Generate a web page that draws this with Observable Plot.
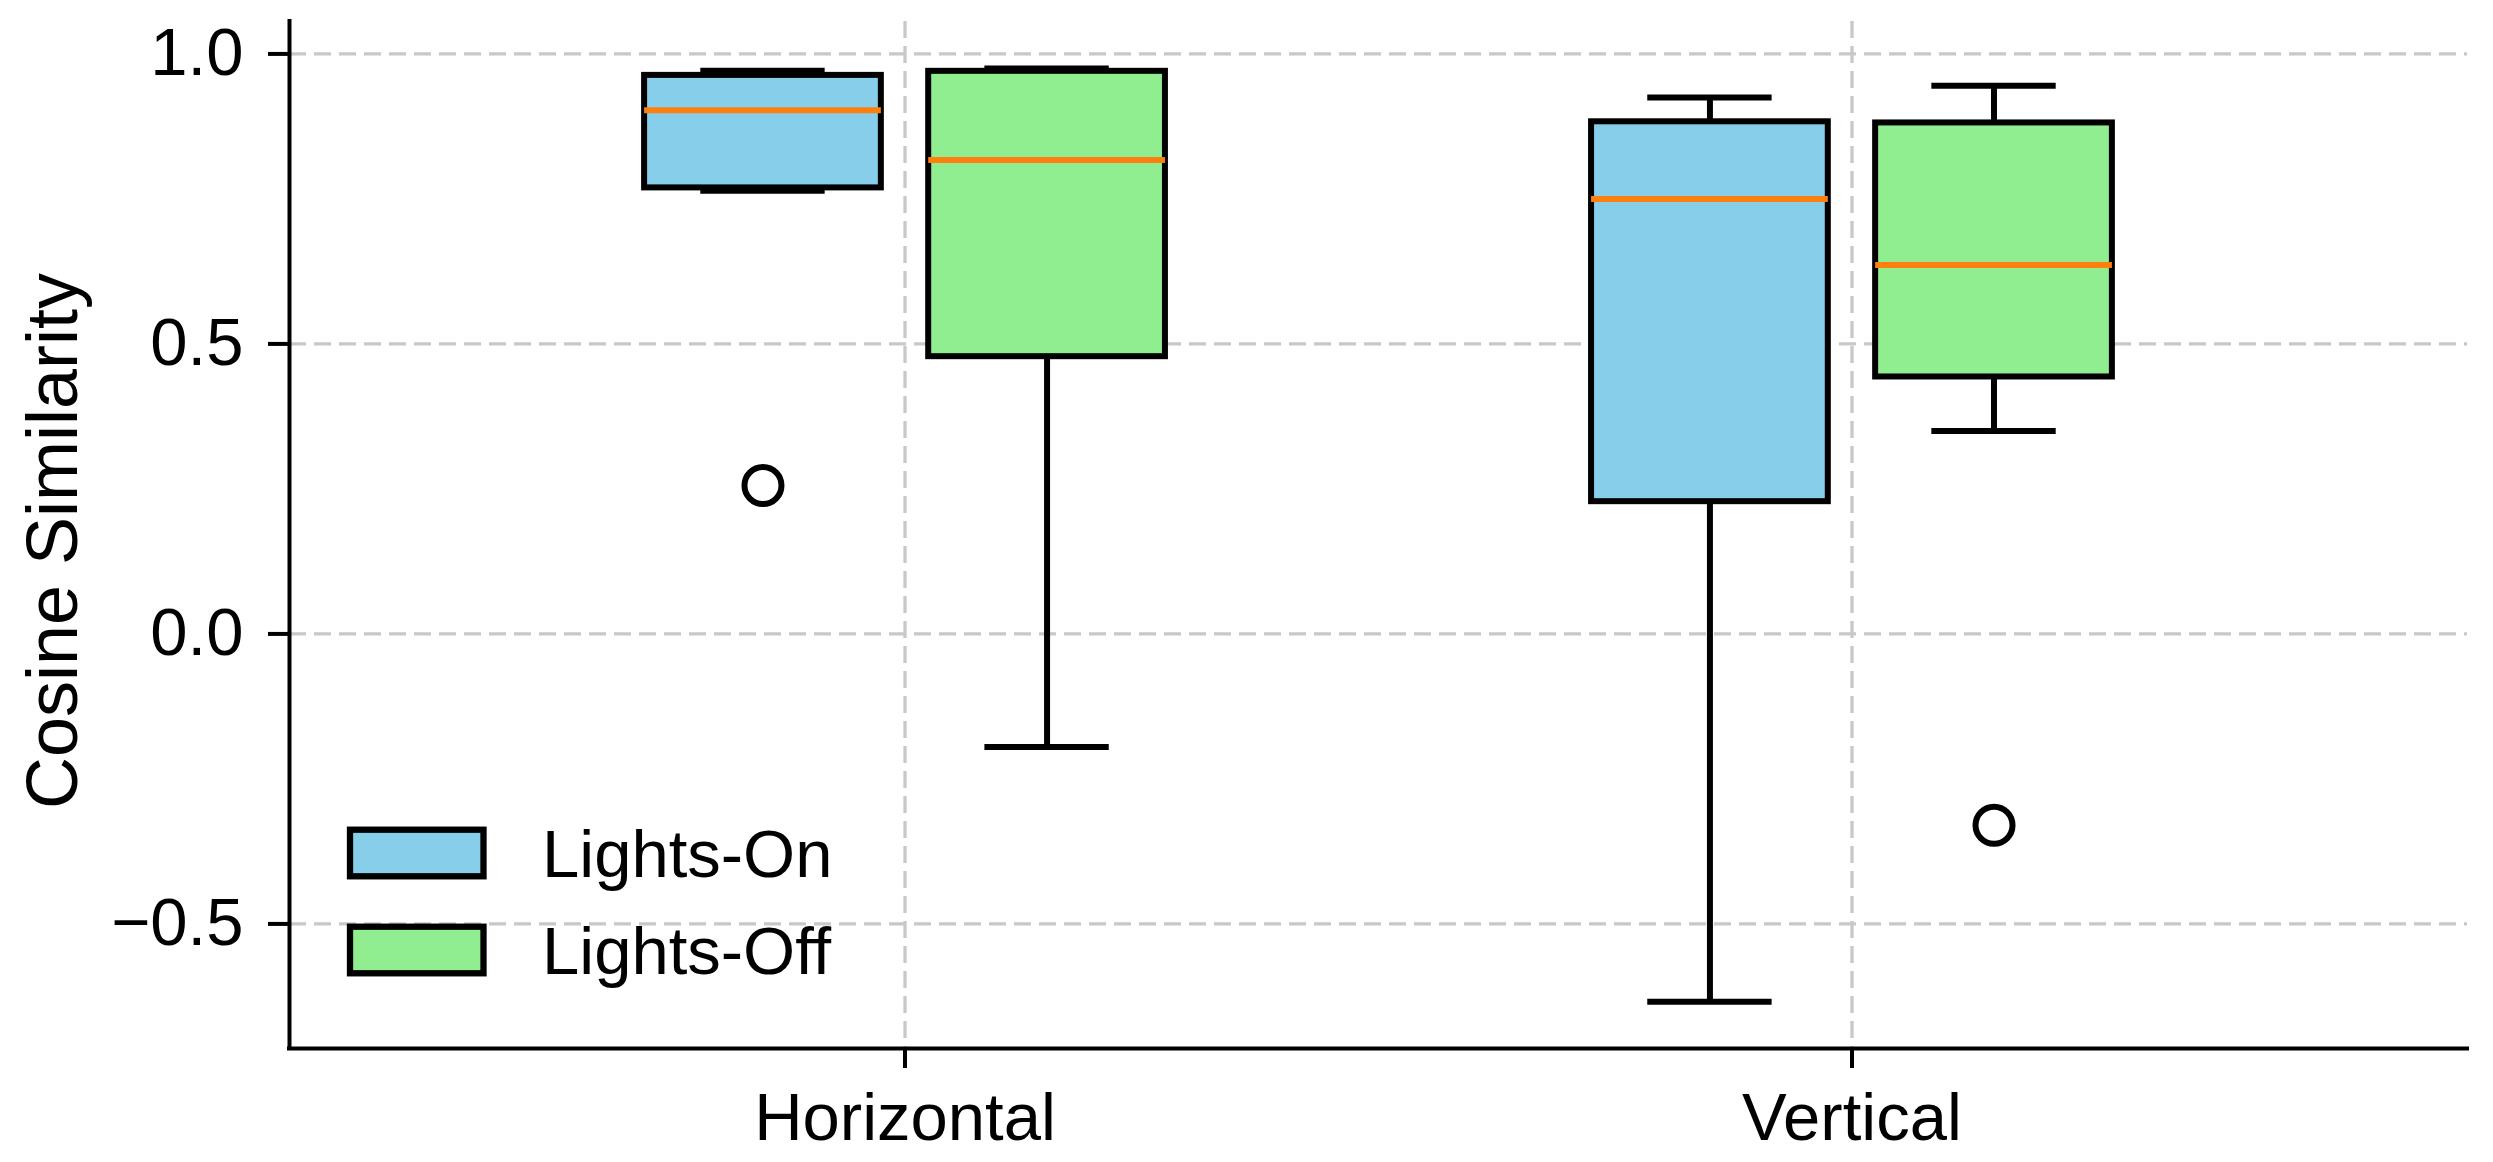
<!DOCTYPE html>
<html>
<head>
<meta charset="utf-8">
<script src="https://cdn.jsdelivr.net/npm/d3@7"></script>
<script src="https://cdn.jsdelivr.net/npm/@observablehq/plot@0.6"></script>
<style>
  html, body { margin: 0; padding: 0; background: #fff; }
  #chart svg { display: block; }
</style>
</head>
<body>
<div id="chart"></div>
<script>
// ---- data ----
const categories = ["Horizontal", "Vertical"];
const groups = ["Lights-On", "Lights-Off"];
const groupColors = ["#87CEEB", "#90EE90"];
const yTicks = [-0.5, 0.0, 0.5, 1.0];

// Lights-On summary per category
const onLow    = [0.764, -0.634];
const onQ1     = [0.769, 0.228];
const onMedian = [0.903, 0.750];
const onQ3     = [0.963, 0.883];
const onHigh   = [0.971, 0.925];
const onOutliers = [[0.256], []];

// Lights-Off summary per category
const offLow    = [-0.195, 0.350];
const offQ1     = [0.478, 0.443];
const offMedian = [0.817, 0.636];
const offQ3     = [0.970, 0.881];
const offHigh   = [0.975, 0.945];
const offOutliers = [[], [-0.330]];

// ---- layout constants ----
const W = 2493, H = 1162;
const xDomain = [-0.65, 1.65];
const yDomain = [-0.7148, 1.0559];
const groupOffset = [-0.15, 0.15];
const boxWidth = 0.25;
const capHalf = boxWidth / 4;
const FONT = "'Liberation Sans', Arial, sans-serif";
const FS = 67;

const summaries = [
  {low: onLow, q1: onQ1, med: onMedian, q3: onQ3, high: onHigh, out: onOutliers},
  {low: offLow, q1: offQ1, med: offMedian, q3: offQ3, high: offHigh, out: offOutliers}
];
const boxes = [];
const outliers = [];
categories.forEach((c, i) => {
  groups.forEach((g, k) => {
    const s = summaries[k];
    const x = i + groupOffset[k];
    boxes.push({cat: c, group: g, x, low: s.low[i], q1: s.q1[i], med: s.med[i], q3: s.q3[i], high: s.high[i]});
    s.out[i].forEach(v => outliers.push({group: g, x, y: v}));
  });
});
const catIdx = categories.map((_, i) => i);

const grid = {stroke: "#c8c8c8", strokeWidth: 3.3, strokeDasharray: "17,8"};
const blk = {stroke: "black", strokeWidth: 6};
const capBlk = {stroke: "black", strokeWidth: 6, strokeLinecap: "square"};

const chart = Plot.plot({
  width: W,
  height: H,
  marginLeft: 289,
  marginRight: 26,
  marginTop: 21,
  marginBottom: 114,
  style: {fontFamily: FONT, fontSize: FS + "px", background: "white", color: "black"},
  x: {type: "linear", domain: xDomain},
  y: {domain: yDomain},
  color: {domain: groups, range: groupColors},
  marks: [
    Plot.ruleY(yTicks, grid),
    Plot.ruleX(catIdx, grid),
    Plot.ruleX(boxes, {x: "x", y1: "low", y2: "q1", ...blk}),
    Plot.ruleX(boxes, {x: "x", y1: "q3", y2: "high", ...blk}),
    Plot.ruleY(boxes, {y: "low", x1: d => d.x - capHalf, x2: d => d.x + capHalf, ...capBlk}),
    Plot.ruleY(boxes, {y: "high", x1: d => d.x - capHalf, x2: d => d.x + capHalf, ...capBlk}),
    Plot.rect(boxes, {x1: d => d.x - boxWidth / 2, x2: d => d.x + boxWidth / 2, y1: "q1", y2: "q3", fill: "group", ...blk}),
    Plot.ruleY(boxes, {y: "med", x1: d => d.x - boxWidth / 2, x2: d => d.x + boxWidth / 2, stroke: "#ff7f0e", strokeWidth: 6}),
    Plot.dot(outliers, {x: "x", y: "y", r: 18.5, stroke: "black", strokeWidth: 6, fill: "none"}),
    Plot.ruleX([xDomain[0]], {stroke: "black", strokeWidth: 4, strokeLinecap: "square"}),
    Plot.ruleY([yDomain[0]], {stroke: "black", strokeWidth: 4, strokeLinecap: "square"}),
    Plot.axisY(yTicks, {tickSize: 21, tickPadding: 25, fontSize: FS, strokeWidth: 4, label: null,
      tickFormat: d => d.toFixed(1).replace("-", "\u2212")}),
    Plot.axisX(catIdx, {tickSize: 20, tickPadding: 24, fontSize: FS, strokeWidth: 4, label: null,
      tickFormat: i => categories[i]})
  ]
});

document.getElementById("chart").appendChild(chart);

// y-axis title and legend
const svg = d3.select(chart);
svg.append("text")
  .attr("transform", `translate(77, 541) rotate(-90)`)
  .attr("text-anchor", "middle")
  .attr("font-family", FONT)
  .attr("font-size", 72)
  .attr("fill", "black")
  .text("Cosine Similarity");

const legend = svg.append("g").attr("text-anchor", "start");
const legendY = [853, 950];
groups.forEach((g, k) => {
  legend.append("rect")
    .attr("x", 350).attr("y", legendY[k] - 23.3)
    .attr("width", 133.5).attr("height", 46.6)
    .attr("fill", groupColors[k])
    .attr("stroke", "black").attr("stroke-width", 6.3);
  legend.append("text")
    .attr("x", 542).attr("y", legendY[k] + 24)
    .attr("text-anchor", "start")
    .attr("font-family", FONT).attr("font-size", FS)
    .attr("fill", "black")
    .text(g);
});
</script>
</body>
</html>
